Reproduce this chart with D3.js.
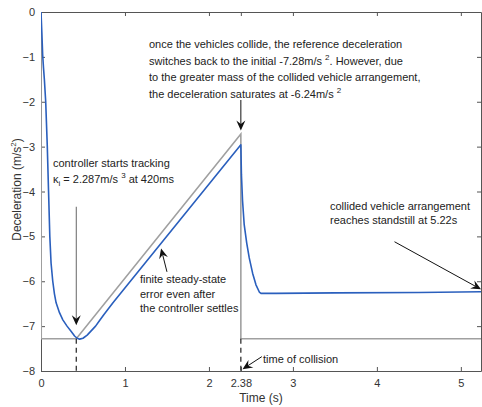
<!DOCTYPE html>
<html><head><meta charset="utf-8">
<script src="https://cdn.jsdelivr.net/npm/d3@7"></script>
<style>
html,body{margin:0;padding:0;background:#fff;}
svg{display:block;font-family:"Liberation Sans",Arial,sans-serif;}
</style></head>
<body><svg id="c" width="482" height="407"></svg>
<script>
// ---- data ----
const xTicks = [0, 1, 2, 2.38, 3, 4, 5];
const yTicks = [0, -1, -2, -3, -4, -5, -6, -7, -8];
// reference deceleration (gray)
const refT = [0, 0.003, 0.42, 2.38, 2.38, 5.24];
const refA = [0, -7.28, -7.28, -2.72, -7.28, -7.28];
// actual deceleration (blue)
const actT = [0, 0.01, 0.02, 0.03, 0.04, 0.056, 0.075, 0.09, 0.105, 0.12, 0.14, 0.16, 0.18, 0.22, 0.26, 0.31, 0.36, 0.40, 0.43, 0.46,
              0.50, 0.55, 0.60, 0.65, 0.70, 0.75, 0.80, 0.857, 2.38,
              2.387, 2.40, 2.42, 2.45, 2.48, 2.52, 2.56, 2.60, 2.62, 2.8, 3.5, 4.5, 5.24];
const actA = [0, -0.45, -0.96, -1.25, -1.5, -2.0, -3.0, -4.0, -5.0, -5.6, -6.0, -6.28, -6.48, -6.7, -6.86, -7.0, -7.12, -7.22, -7.27, -7.29,
              -7.27, -7.2, -7.1, -7.0, -6.87, -6.74, -6.62, -6.48, -2.96,
              -3.63, -4.2, -4.74, -5.15, -5.48, -5.82, -6.08, -6.24, -6.27, -6.27, -6.26, -6.25, -6.235];
const markT = [0.42, 2.38];   // dashed markers
const markA = -7.28;

// ---- layout ----
const svg = d3.select("#c");
const L = 41, T = 12, W = 440, H = 359;
const x = d3.scaleLinear().domain([0, 5.24]).range([L, L + W]);
const y = d3.scaleLinear().domain([-8, 0]).range([T + H, T]);
const axisCol = "#555";
const FONT = '"Liberation Sans",Arial,sans-serif';

svg.append("defs").append("clipPath").attr("id", "clip")
  .append("rect").attr("x", L).attr("y", T).attr("width", W).attr("height", H);

// axes (ticks inward, box)
const gx = svg.append("g").attr("transform", `translate(0,${T + H})`)
  .call(d3.axisBottom(x).tickValues(xTicks).tickFormat(d => d === 2.38 ? "2.38" : d3.format("d")(d)).tickSizeInner(-4).tickSizeOuter(0).tickPadding(8));
const gxt = svg.append("g").attr("transform", `translate(0,${T})`)
  .call(d3.axisTop(x).tickValues(xTicks).tickFormat("").tickSizeInner(-4).tickSizeOuter(0));
const gy = svg.append("g").attr("transform", `translate(${L},0)`)
  .call(d3.axisLeft(y).tickValues(yTicks).tickFormat(d3.format("d")).tickSizeInner(-4).tickSizeOuter(0).tickPadding(6));
const gyr = svg.append("g").attr("transform", `translate(${L + W},0)`)
  .call(d3.axisRight(y).tickValues(yTicks).tickFormat("").tickSizeInner(-4).tickSizeOuter(0));
[gx, gxt, gy, gyr].forEach(g => {
  g.attr("font-size", 11).attr("font-family", FONT);
  g.selectAll("path,line").attr("stroke", axisCol).attr("stroke-width", 1);
  g.selectAll("text").attr("fill", "#333").attr("font-size", 11);
});
gxt.selectAll("text").remove();
gyr.selectAll("text").remove();

// lines
const plot = svg.append("g").attr("clip-path", "url(#clip)");
const refData = refT.map((t, i) => [t, refA[i]]);
const actData = actT.map((t, i) => [t, actA[i]]);
plot.append("path").datum(refData)
  .attr("d", d3.line().x(d => x(d[0])).y(d => y(d[1])))
  .attr("fill", "none").attr("stroke", "#a0a0a0").attr("stroke-width", 1.6);
plot.append("path").datum(actData)
  .attr("d", d3.line().x(d => x(d[0])).y(d => y(d[1])))
  .attr("fill", "none").attr("stroke", "#2a5fbd").attr("stroke-width", 1.6).attr("stroke-linejoin", "round");

// dashed markers
markT.forEach(t => {
  svg.append("line").attr("x1", x(t)).attr("x2", x(t)).attr("y1", y(markA)).attr("y2", y(-8))
    .attr("stroke", "#222").attr("stroke-width", 1.2).attr("stroke-dasharray", "5,4");
});

// arrows
function arrow(t0, a0, t1, a1, col) {
  const x0 = x(t0), y0 = y(a0), x1 = x(t1), y1 = y(a1);
  const dx = x1 - x0, dy = y1 - y0, len = Math.hypot(dx, dy);
  const ux = dx / len, uy = dy / len, px = -uy, py = ux;
  const hl = 10, hw = 4.5, notch = 6.5;
  svg.append("line").attr("x1", x0).attr("y1", y0)
    .attr("x2", x1 - ux * notch).attr("y2", y1 - uy * notch)
    .attr("stroke", col).attr("stroke-width", 1);
  const pts = [[x1, y1],
    [x1 - ux * hl + px * hw, y1 - uy * hl + py * hw],
    [x1 - ux * notch, y1 - uy * notch],
    [x1 - ux * hl - px * hw, y1 - uy * hl - py * hw]];
  svg.append("path").attr("d", "M" + pts.map(p => p.join(",")).join("L") + "Z").attr("fill", "#111");
}
arrow(2.38, -1.96, 2.38, -2.64, "#111");
arrow(0.42, -4.34, 0.42, -6.98, "#666");
arrow(1.50, -5.79, 1.43, -5.27, "#111");
arrow(4.21, -5.12, 5.24, -6.18, "#111");
arrow(2.63, -7.68, 2.40, -7.96, "#111");

// text
function txt(xp, yp, parts) {
  const t = svg.append("text").attr("x", xp).attr("y", yp).attr("fill", "#222")
    .attr("font-size", 11).attr("font-family", FONT);
  let shift = 0;
  parts.forEach(p => {
    let s, target, size;
    if (typeof p === "string") { s = p; target = 0; size = 11; }
    else if (p.sup) { s = p.sup; target = -5; size = 8; }
    else { s = p.sub; target = 3; size = 8; }
    t.append("tspan").attr("dy", target - shift).attr("font-size", size).text(s);
    shift = target;
  });
  return t;
}
txt(149, 48, ["once the vehicles collide, the reference deceleration"]);
txt(149, 65, ["switches back to the initial -7.28m/s ", {sup: "2"}, ". However, due"]);
txt(149, 81, ["to the greater mass of the collided vehicle arrangement,"]);
txt(149, 98, ["the deceleration saturates at -6.24m/s ", {sup: "2"}]);
txt(53, 167, ["controller starts tracking"]);
txt(53, 183, ["\u03ba", {sub: "i"}, " = 2.287m/s ", {sup: "3"}, " at 420ms"]);
txt(140, 283, ["finite steady-state"]);
txt(140, 298, ["error even after"]);
txt(140, 312, ["the controller settles"]);
txt(330, 210, ["collided vehicle arrangement"]);
txt(330, 224, ["reaches standstill at 5.22s"]);
txt(263, 363, ["time of collision"]);

// axis labels
svg.append("text").attr("x", x(2.62)).attr("y", 402).attr("text-anchor", "middle")
  .attr("fill", "#333").attr("font-size", 12).attr("font-family", FONT).text("Time (s)");
const yl = svg.append("text").attr("transform", `translate(21,${y(-4) - 2}) rotate(-90)`)
  .attr("text-anchor", "middle").attr("fill", "#333").attr("font-size", 12).attr("font-family", FONT);
yl.append("tspan").attr("font-size", 12).text("Deceleration (m/s");
yl.append("tspan").attr("dy", -5).attr("font-size", 8).text("2");
yl.append("tspan").attr("dy", 5).attr("font-size", 12).text(")");
</script></body></html>
